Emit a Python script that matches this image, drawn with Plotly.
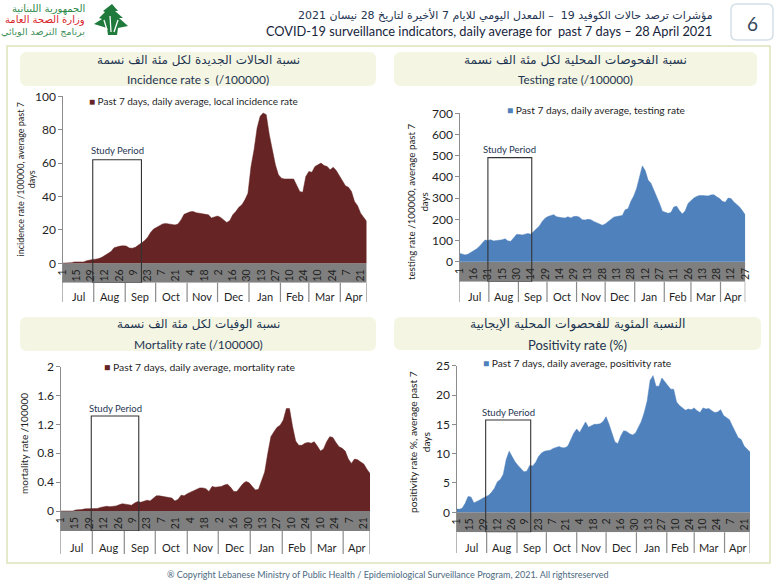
import pandas as pd
import plotly.graph_objects as go

W, H = 777, 583

# ---- data: one reading every 3 days, 1 Jul 2020 to 27 Apr 2021 ----
START = "2020-07-01"
incidence = [0.1,0.1,0.2,0.4,0.8,0.9,0.8,0.8,1.5,2.0,2.3,2.5,2.8,3.6,4.6,5.7,7.0,9.3,9.9,10.3,
             10.5,10.3,9.2,9.0,9.6,10.8,11.8,13.5,15.5,18.5,20.5,21.5,22.5,23.6,23.8,23.4,23.2,23.0,23.5,26,
             29.3,30,30.8,31,30.2,30,29.8,29.6,29,27.2,27.6,28.3,27.5,25.8,24.5,25.5,29,31,33.5,35,
             38,42,58,68,81,88,90,89,77,68,59,53,51,50.5,50.7,50.5,50.5,47,43,42.5,
             52,55,54.5,58,59,60,58.5,58,56,57.5,55.5,52.5,50,46.5,45.5,43,37,34.5,30,27.5,25]
testing = [40,37,32,35,43,52,60,72,88,102,100,103,98,100,100,103,108,98,96,112,
           128,128,126,130,133,130,143,157,168,190,205,213,218,222,212,208,207,206,212,206,
           213,214,210,198,197,200,198,190,185,178,172,178,190,202,210,213,215,218,245,250,
           285,310,345,400,452,430,385,370,340,310,275,238,232,228,232,258,262,240,225,240,
           275,290,300,308,312,312,312,310,315,316,306,298,285,280,300,298,282,270,258,240,220]
mortality = [0,0,0,0,0,.015,.015,.02,.03,.03,.035,.03,.035,.05,.06,.065,.06,.06,.07,.085,
             .10,.095,.085,.08,.11,.13,.12,.13,.15,.14,.17,.21,.21,.20,.20,.19,.18,.14,.16,.22,
             .21,.24,.26,.28,.30,.32,.32,.31,.27,.34,.33,.33,.34,.36,.37,.33,.27,.27,.33,.38,
             .41,.39,.34,.29,.30,.42,.54,.80,1.03,1.10,1.16,1.19,1.26,1.42,1.42,1.17,.97,.91,.91,.94,
             .95,.94,.96,.90,.83,.86,.96,1.03,1.02,.95,.89,.87,.83,.72,.66,.72,.71,.68,.65,.58,.52]
positivity = [.6,.5,.7,1.5,2.7,2.6,1.6,1.8,2.1,2.4,2.6,2.9,3.4,4.1,5.2,5.6,6.5,9.0,10.4,9.5,
              8.6,8.0,7.4,6.9,7.0,8.0,7.9,8.5,9.5,10.1,10.4,10.5,10.6,10.9,11.0,11.2,11.0,11,11.3,12.3,
              13.5,14.2,13.6,14.5,15.4,14.5,14.7,15,15,15.1,15.5,16.3,15,13.5,12.0,11.7,13,13.9,13.8,13.4,
              13.2,13.5,14.5,15.5,17,19,22.5,23.3,21.5,21.5,22.9,22.2,21.5,21,21,18.8,18.2,17.8,17.4,17.6,
              17.5,17.8,17.3,17,17.8,17.6,17.7,17.3,17,17.1,17.5,16.5,16.2,15.8,14.7,13.8,12.7,12.4,11.3,10.8,10.3]

ticks_14 = ["1","15","29","12","26","9","23","7","21","4","18","2","16","30","13","27","10","24","10","24","7","21"]
ticks_15 = ["1","16","31","15","30","14","29","14","29","13","28","13","28","12","27","11","26","13","28","12","27"]
months = ["Jul","Aug","Sep","Oct","Nov","Dec","Jan","Feb","Mar","Apr"]
month_starts = ["2020-07-01","2020-08-01","2020-09-01","2020-10-01","2020-11-01","2020-12-01",
                "2021-01-01","2021-02-01","2021-03-01","2021-04-01","2021-04-28"]

MAROON, BLUE = "#662424", "#4f81bd"
BAND, GREY = "#7f7f7f", "#8c8c8c"
INK, NAVY = "#1f1f1f", "#1f3552"
FONT, AR = "Lato", "DejaVu Sans"

panels = [
    dict(y=incidence, color=MAROON, name="Past 7 days, daily average, local incidence rate",
         title="incidence rate /100000, average past 7<br>days", tsize=9, tpos=(25.5, 179), dtick=20, ymax=100,
         px=(62.3, 366.7), top=96.3, zero=263.3, bot=282.7, mbot=302, mlab=296, tl=ticks_14, step="14D",
         study=(62, "2020-07-31", "2020-09-17"), legend=(87, 101), lsize=10,
         ar="نسبة الحالات الجديدة لكل مئة الف نسمة", arsize=12, en="Incidence rate s  (/100000)", ensize=12,
         box=(20, 52, 376, 86), ty=(60, 80), studylab=150),
    dict(y=testing, color=BLUE, name="Past 7 days, daily average, testing rate",
         title="testing rate /100000, average past 7<br>days", tsize=9.75, tpos=(417, 202), dtick=100, ymax=700,
         px=(459.3, 745.3), top=113.3, zero=261.7, bot=281.7, mbot=302, mlab=296, tl=ticks_15, step="15D",
         study=(491, "2020-07-31", "2020-09-15"), legend=(505, 110), lsize=10.2,
         ar="نسبة الفحوصات المحلية لكل مئة الف نسمة", arsize=12.3, en="Testing rate (/100000)", ensize=11.7,
         box=(394, 52, 757, 86), ty=(60, 79), studylab=149),
    dict(y=mortality, color=MAROON, name="Past 7 days, daily average, mortality rate",
         title="mortality rate /100000", tsize=10, tpos=(24, 444), dtick=0.4, ymax=2,
         px=(60.3, 370), top=366.7, zero=511, bot=531, mbot=554, mlab=547, tl=ticks_14, step="14D",
         study=(1.316, "2020-07-31", "2020-09-15"), legend=(102, 367), lsize=10.4,
         ar="نسبة الوفيات لكل مئة الف نسمة", arsize=12, en="Mortality rate (/100000)", ensize=12,
         box=(20, 317, 376, 351), ty=(325, 344), studylab=408),
    dict(y=positivity, color=BLUE, name="Past 7 days, daily average, positivity rate",
         title="positivity rate %, average past 7<br>days", tsize=10.2, tpos=(419, 442), dtick=5, ymax=25,
         px=(456.3, 750), top=365.7, zero=512.3, bot=532.3, mbot=553, mlab=547, tl=ticks_14, step="14D",
         study=(15.74, "2020-07-31", "2020-09-15"), legend=(481, 363), lsize=10.2,
         ar="النسبة المئوية للفحصوات المحلية الإيجابية", arsize=12.5, en="Positivity rate (%)", ensize=13,
         box=(394, 317, 761, 350), ty=(324, 345), studylab=412),
]

def fy(py):
    return 1 - py / H

def fx(px):
    return px / W

dates = pd.date_range(START, periods=len(incidence), freq="3D")

fig = go.Figure()
shapes, annots = [], []

def text(x, y, s, size, color=INK, font=FONT, xanchor="center", xref="paper", **kw):
    annots.append(dict(x=x if xref != "paper" else fx(x), y=fy(y), text=s, xref=xref, yref="paper",
                       showarrow=False, xanchor=xanchor, yanchor="middle",
                       font=dict(family=font, size=size, color=color), **kw))

def rounded(x0, y0, x1, y1, r, **kw):
    p = (f"M{fx(x0+r)},{fy(y0)} L{fx(x1-r)},{fy(y0)} Q{fx(x1)},{fy(y0)} {fx(x1)},{fy(y0+r)} "
         f"L{fx(x1)},{fy(y1-r)} Q{fx(x1)},{fy(y1)} {fx(x1-r)},{fy(y1)} L{fx(x0+r)},{fy(y1)} "
         f"Q{fx(x0)},{fy(y1)} {fx(x0)},{fy(y1-r)} L{fx(x0)},{fy(y0+r)} Q{fx(x0)},{fy(y0)} {fx(x0+r)},{fy(y0)} Z")
    shapes.append(dict(type="path", path=p, xref="paper", yref="paper", layer="below", **kw))

# outer frame and page-number box
shapes.append(dict(type="rect", xref="paper", yref="paper", x0=fx(7), x1=fx(770), y0=fy(563), y1=fy(46),
                   line=dict(color="#dde5b9", width=1.5), layer="below"))
rounded(731, 4, 773, 40, 6, line=dict(color="#d3dfe6", width=1.5), fillcolor="white")
text(752, 23, "6", 19, color="#33475b")

# header
text(715, 15, "مؤشرات ترصد حالات الكوفيد 19  – المعدل اليومي للايام 7 الأخيرة لتاريخ 28 نيسان 2021", 11,
     color=NAVY, font=AR, xanchor="right")
text(714, 31, "COVID-19 surveillance indicators, daily average for  past 7 days – 28 April 2021", 12.8,
     color="#16243a", xanchor="right")

# logo
text(87, 9, "الجمهورية اللبنانية", 10, color="#2f8a4c", font=AR, xanchor="right")
text(87, 20, "وزارة الصحة العامة", 10, color="#d8232a", font=AR, xanchor="right")
text(87, 31, "برنامج الترصد الوبائي", 9.5, color="#3f8f5a", font=AR, xanchor="right")
tree = [(112,4),(118,11),(115,11),(123,18),(119,18),(128,26),(118,28),(117,35),(108,35),(107,28),(94,24),(102,19),(99,18),(105,12),(103,11)]
shapes.append(dict(type="path", xref="paper", yref="paper", fillcolor="#1f7a3c", line=dict(width=0),
                   path="M" + " L".join(f"{fx(a)},{fy(b)}" for a, b in tree) + " Z"))
for a, b, c, d in [(107,30,104,20),(111,32,110,16),(114,32,118,20)]:
    shapes.append(dict(type="line", xref="paper", yref="paper", x0=fx(a), y0=fy(b), x1=fx(c), y1=fy(d),
                       line=dict(color="white", width=1.3)))

# footer
text(388, 574, "® Copyright Lebanese Ministry of Public Health / Epidemiological Surveillance Program, 2021. All rightsreserved",
     9, color="#4c6a82")

layout = {}
for i, p in enumerate(panels, start=1):
    xa, ya = f"x{i}", f"y{i}"
    xkey, ykey = f"xaxis{i}", f"yaxis{i}"
    ppu = (p["zero"] - p["top"]) / p["ymax"]
    ymin = -(p["bot"] - p["zero"]) / ppu
    tickdates = pd.date_range(START, periods=len(p["tl"]), freq=p["step"])

    fig.add_trace(go.Scatter(x=dates, y=p["y"], name=p["name"], xaxis=xa, yaxis=ya, mode="lines",
                             fill="tozeroy", fillcolor=p["color"], line=dict(color=p["color"], width=0.5),
                             showlegend=False))

    layout[xkey] = dict(type="date", domain=[fx(p["px"][0]), fx(p["px"][1])], anchor="free",
                        position=fy(p["zero"]), range=["2020-07-01", "2021-04-27"],
                        tickmode="array", tickvals=list(tickdates), ticktext=p["tl"], tickangle=-90,
                        ticks="", ticklabelstandoff=3, showgrid=False, showline=False, zeroline=False,
                        tickfont=dict(family=FONT, size=10.5, color=INK))
    tv = [k * p["dtick"] for k in range(round(p["ymax"] / p["dtick"]) + 1)]
    layout[ykey] = dict(domain=[fy(p["bot"]), fy(p["top"])], anchor="free", position=fx(p["px"][0]),
                        range=[ymin, p["ymax"]], tickmode="array", tickvals=tv,
                        ticktext=[f"{v:.10g}" for v in tv],
                        ticks="outside", ticklen=4, tickcolor=GREY, showgrid=False, zeroline=False,
                        showline=True, linecolor=GREY, linewidth=1,
                        tickfont=dict(family=FONT, size=12, color=INK))

    # rotated axis title
    text(p["tpos"][0], p["tpos"][1], p["title"], p["tsize"], textangle=-90)

    # legend line
    text(p["legend"][0], p["legend"][1],
         f"<span style='color:{p['color']}'>■</span> {p['name']}", p["lsize"], xanchor="left")

    # grey band under the zero line
    shapes.append(dict(type="rect", xref=xa, yref=ya, x0=month_starts[0], x1="2021-04-27", y0=ymin, y1=0,
                       fillcolor=BAND, line=dict(width=0), layer="below"))
    # month separators and labels
    for m in month_starts[:-1] + ["2021-04-27"]:
        shapes.append(dict(type="line", xref=xa, yref="paper", x0=m, x1=m, y0=fy(p["mbot"]), y1=fy(p["bot"]),
                           line=dict(color=GREY, width=1.2)))
    for j, m in enumerate(months):
        a, b = pd.Timestamp(month_starts[j]), pd.Timestamp(month_starts[j + 1])
        text(a + (b - a) / 2, p["mlab"], m, 11, xref=xa)
    # study-period box
    top, s0, s1 = p["study"]
    shapes.append(dict(type="rect", xref=xa, yref=ya, x0=s0, x1=s1, y0=ymin, y1=top,
                       line=dict(color="#333333", width=1.1), layer="above"))
    a, b = pd.Timestamp(s0), pd.Timestamp(s1)
    text(a + (b - a) / 2, p["studylab"], "Study Period", 9.5, color=NAVY, xref=xa)
    # title box
    x0, y0, x1, y1 = p["box"]
    rounded(x0, y0, x1, y1, 7, fillcolor="#f4f6e3", line=dict(width=0))
    text((x0 + x1) / 2, p["ty"][0], p["ar"], p["arsize"], color=NAVY, font=AR)
    text((x0 + x1) / 2, p["ty"][1], p["en"], p["ensize"], color=NAVY)

fig.update_layout(width=W, height=H, autosize=False,
                  margin=dict(l=0, r=0, t=0, b=0, pad=0, autoexpand=False),
                  paper_bgcolor="white", plot_bgcolor="rgba(0,0,0,0)",
                  shapes=shapes, annotations=annots, **layout)
fig.write_html("out.html", config={"displayModeBar": False}, post_script="document.body.style.margin='0';")
